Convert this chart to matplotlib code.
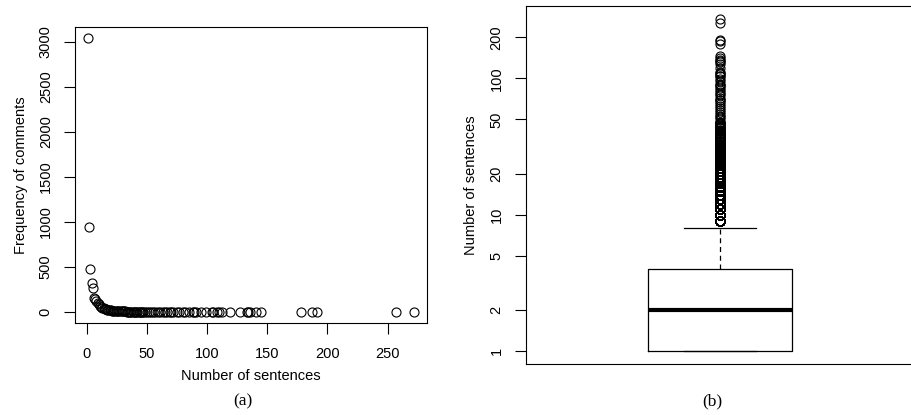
import numpy as np
import matplotlib.pyplot as plt

# Distribuição do número de sentenças por comentário
sentences = [1, 2, 3, 4, 5, 6, 7, 8, 9, 10, 11, 12, 13, 14, 15, 16, 17, 18, 19, 20,
             21, 22, 23, 24, 25, 26, 27, 28, 29, 30, 31, 32, 33, 34, 35, 36, 37, 38, 39, 40,
             41, 42, 43, 44, 45, 46, 47, 48,
             50, 52, 53, 55, 57, 59, 61, 63, 65, 67, 69, 70, 72, 75, 77, 80, 82, 85, 88, 89,
             91, 95, 99, 104, 105, 108, 110, 112, 119, 127, 133, 134, 136, 141, 145,
             178, 187, 191, 257, 272]
freq = [3040, 945, 475, 320, 270, 160, 150, 120, 100, 85, 70, 60, 50, 45, 38, 32, 28, 25, 22, 20,
        17, 15, 14, 12, 11, 10, 9, 8, 7, 7, 6, 6, 5, 5, 4, 4, 4, 3, 3, 3,
        3, 2, 2, 2, 2, 2, 2, 2,
        1, 1, 1, 1, 1, 1, 1, 1, 1, 1, 1, 1, 1, 1, 1, 1, 1, 1, 1, 1,
        1, 1, 1, 1, 1, 1, 1, 1, 1, 1, 1, 1, 1, 1, 1,
        1, 1, 1, 1, 1]

x_ticks = [0, 50, 100, 150, 200, 250]
y_ticks = [0, 500, 1000, 1500, 2000, 2500, 3000]
log_ticks = [1, 2, 5, 10, 20, 50, 100, 200]

plt.rcParams['font.family'] = ['Liberation Sans', 'DejaVu Sans']
plt.rcParams['font.size'] = 10.5

fig = plt.figure(figsize=(9.12, 4.15), dpi=100)

# (a) frequencia x numero de sentencas
ax1 = fig.add_axes([75 / 912, 92 / 415, 352 / 912, 296 / 415])
ax1.plot(sentences, freq, 'o', mfc='none', mec='black', mew=0.8, ms=6.5)
x_lo, x_hi = min(sentences), max(sentences)
ax1.set_xlim(x_lo - 0.04 * (x_hi - x_lo), x_hi + 0.04 * (x_hi - x_lo))
y_hi = max(freq)
ax1.set_ylim(-0.04 * y_hi, 1.04 * y_hi)
ax1.set_xticks(x_ticks)
ax1.set_yticks(y_ticks)
ax1.tick_params(axis='x', length=8, width=0.8, pad=9.5)
ax1.tick_params(axis='y', length=8, width=0.8, pad=8)
for lab in ax1.get_yticklabels():
    lab.set_rotation(90)
    lab.set_va('center')
ax1.set_xlabel('Number of sentences', labelpad=5.5)
ax1.set_ylabel('Frequency of comments', labelpad=8)
for s in ax1.spines.values():
    s.set_linewidth(0.8)

# (b) boxplot em escala log
raw = np.repeat(sentences, freq)
ax2 = fig.add_axes([525.7 / 912, 51 / 415, 388 / 912, 358 / 415])
ax2.boxplot(raw, positions=[1], widths=0.4, whis=1.5,
            boxprops=dict(color='black', linewidth=0.9),
            medianprops=dict(color='black', linewidth=3),
            whiskerprops=dict(color='black', linewidth=0.9, linestyle=(0, (4, 3))),
            capprops=dict(color='black', linewidth=0.9),
            capwidths=0.2,
            flierprops=dict(marker='o', mfc='none', mec='black', mew=0.8, ms=6.5))
ax2.set_yscale('log')
lo, hi = np.log10(min(sentences)), np.log10(max(sentences))
ax2.set_ylim(10 ** (lo - 0.04 * (hi - lo)), 10 ** (hi + 0.04 * (hi - lo)))
ax2.set_xlim(0.46, 1.54)
ax2.set_yticks(log_ticks)
ax2.set_yticklabels([str(t) for t in log_ticks])
ax2.minorticks_off()
ax2.set_xticks([])
ax2.tick_params(axis='y', length=8, width=0.8, pad=8)
for lab in ax2.get_yticklabels():
    lab.set_rotation(90)
    lab.set_va('center')
ax2.set_ylabel('Number of sentences', labelpad=8)
for s in ax2.spines.values():
    s.set_linewidth(0.8)

fig.text(243 / 912, 1 - 401 / 415, '(a)', ha='center', va='center',
         family=['Liberation Serif', 'DejaVu Serif'], fontsize=12.5)
fig.text(712 / 912, 1 - 401 / 415, '(b)', ha='center', va='center',
         family=['Liberation Serif', 'DejaVu Serif'], fontsize=12.5)

fig.savefig('out.png', dpi=100)
